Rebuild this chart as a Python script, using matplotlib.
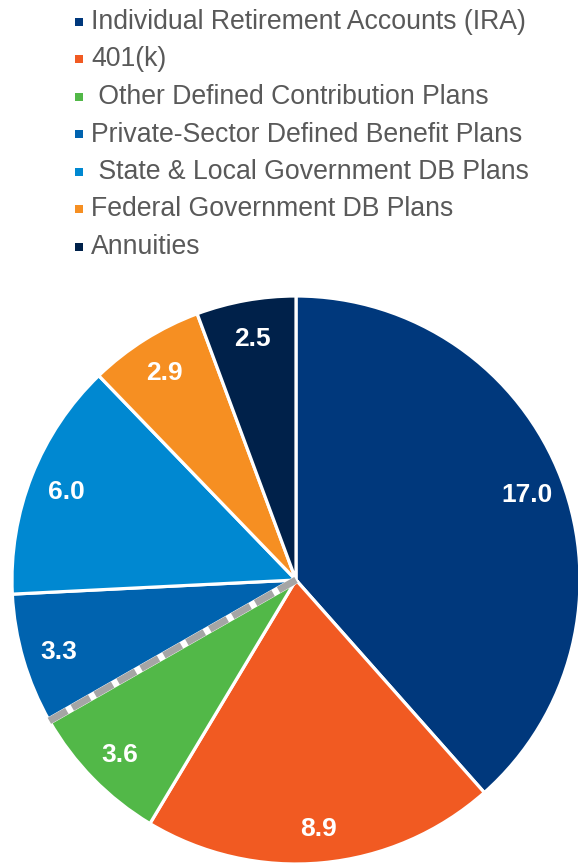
import numpy as np
import matplotlib.pyplot as plt
from matplotlib.patches import Rectangle

plt.rcParams['font.family'] = ['Liberation Sans', 'DejaVu Sans']

labels = ['Individual Retirement Accounts (IRA)', '401(k)', ' Other Defined Contribution Plans',
          'Private-Sector Defined Benefit Plans', ' State & Local Government DB Plans',
          'Federal Government DB Plans', 'Annuities']
values = [17.0, 8.9, 3.6, 3.3, 6.0, 2.9, 2.5]
colors = ['#00387C', '#F15A22', '#52B848', '#0063AF', '#0088D1', '#F68F22', '#00214A']

W, H = 578, 863
fig = plt.figure(figsize=(W / 100, H / 100), dpi=100)
ax = fig.add_axes([0, 0, 1, 1])

cx, cy, r = 296, H - 580, 284
wedges, texts = ax.pie(values, colors=colors, startangle=90, counterclock=False,
                       center=(cx, cy), radius=r,
                       labels=[f'{v:.1f}' for v in values], labeldistance=0.87,
                       wedgeprops=dict(edgecolor='white', linewidth=2.3),
                       textprops=dict(color='white', fontsize=19, fontweight='bold',
                                      ha='center', va='center_baseline'))
for t in texts:
    t.set_ha('center')
    t.set_va('center_baseline')

# dashed divider between defined-contribution and defined-benefit slices
cum = sum(values[:3])
ang = np.deg2rad(90 - cum / sum(values) * 360)
xs = [cx, cx + r * np.cos(ang)]
ys = [cy, cy + r * np.sin(ang)]
ax.plot(xs, ys, color='white', lw=5.5, solid_capstyle='butt', zorder=3)
ax.plot(xs, ys, color='#A5A5A5', lw=5.0, dashes=(2.9, 0.9), solid_capstyle='butt',
        dash_capstyle='butt', zorder=4)

# legend
for i, (lab, col) in enumerate(zip(labels, colors)):
    y = H - (22 + 37.5 * i)
    ax.add_patch(Rectangle((75, y - 4), 8, 8, color=col, lw=0))
    ax.text(91, y, lab, color='#595959', fontsize=19.2, va='center', ha='left')

ax.set_xlim(0, W)
ax.set_ylim(0, H)
ax.set_axis_off()
fig.savefig('out.png', dpi=100)
